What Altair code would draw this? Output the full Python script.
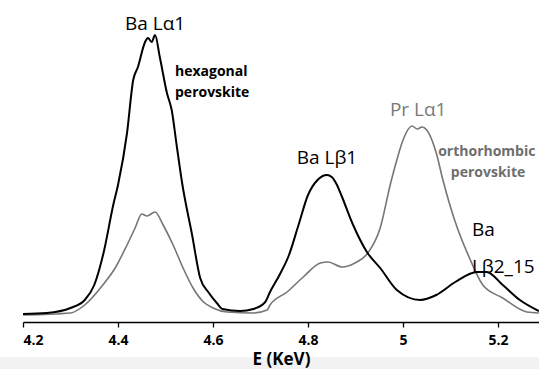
import altair as alt
import pandas as pd

# hexagonal perovskite (black)
hex_E = [4.20, 4.25, 4.30, 4.33, 4.35, 4.37, 4.39, 4.40, 4.419, 4.432, 4.442, 4.457, 4.463, 4.471,
         4.478, 4.488, 4.503, 4.513, 4.524, 4.535, 4.556, 4.573, 4.59, 4.608, 4.62, 4.657, 4.685,
         4.71, 4.72, 4.74, 4.76, 4.78, 4.80, 4.82, 4.84, 4.85, 4.861, 4.87, 4.895, 4.924, 4.952,
         4.987, 5.036, 5.07, 5.11, 5.156, 5.176, 5.21, 5.246, 5.286]
hex_I = [8, 9, 14, 22, 37, 70, 117, 137, 189, 242, 255, 280, 284, 280,
         287, 265, 229, 212, 175, 139, 87, 44, 30, 19, 13, 11, 13,
         20, 30, 47, 67, 97, 127, 142, 147, 145, 137, 127, 97, 70, 54,
         32, 22, 27, 40, 50, 50, 37, 22, 11]

# orthorhombic perovskite (gray)
ort_E = [4.20, 4.30, 4.33, 4.368, 4.394, 4.419, 4.436, 4.45, 4.461, 4.478, 4.495, 4.516, 4.537,
         4.558, 4.58, 4.60, 4.63, 4.685, 4.714, 4.72, 4.756, 4.79, 4.826, 4.842, 4.872, 4.899,
         4.926, 4.952, 4.973, 4.987, 5.0, 5.019, 5.03, 5.04, 5.05, 5.07, 5.084, 5.11, 5.14,
         5.168, 5.21, 5.261, 5.286]
ort_I = [7, 9, 17, 37, 54, 77, 94, 108, 106, 110, 97, 77, 54,
         34, 20, 14, 10, 9, 12, 17, 30, 45, 59, 60, 55, 59,
         69, 94, 137, 162, 182, 196, 193, 195, 192, 169, 142, 100, 64,
         37, 24, 10, 9]

tick_values = [4.2, 4.4, 4.6, 4.8, 5.0, 5.2]

lab_text = ["Ba L\u03b11", "Pr L\u03b11", "Ba L\u03b21", "Ba", "L\u03b22_15"]
lab_E = [4.478, 5.032, 4.84, 5.145, 5.145]
lab_I = [298, 212, 164, 92, 55]
lab_col = ["black", "#7a7a7a", "black", "black", "black"]
lab_align = ["center", "center", "center", "left", "left"]

bold_text = ["hexagonal", "perovskite", "orthorhombic", "perovskite"]
bold_E = [4.52, 4.52, 5.074, 5.179]
bold_I = [250, 229, 170, 149]
bold_col = ["black", "black", "#6e6e6e", "#6e6e6e"]
bold_align = ["left", "left", "left", "center"]

df = pd.concat([
    pd.DataFrame({"E": hex_E, "I": hex_I, "s": "hex"}),
    pd.DataFrame({"E": ort_E, "I": ort_I, "s": "ort"}),
])
labs = pd.DataFrame({"t": lab_text, "E": lab_E, "I": lab_I, "c": lab_col, "a": lab_align})
bolds = pd.DataFrame({"t": bold_text, "E": bold_E, "I": bold_I, "c": bold_col, "a": bold_align})

xs = alt.Scale(domain=[4.2, 5.2863], nice=False, zero=False)
ys = alt.Scale(domain=[0, 322], nice=False, zero=False)

band = alt.Chart(pd.DataFrame({"a": [0]})).mark_rect(color="#f2f2f2").encode(
    x=alt.value(-23), x2=alt.value(516), y=alt.value(357), y2=alt.value(369))

xaxis = alt.Axis(values=tick_values, labelExpr="format(datum.value, '~g')", title="E (KeV)",
                 titleFont="Open Sans", titleFontSize=17, titleFontWeight="bold",
                 titleColor="black", titleBaseline="middle", titleY=37,
                 labelFont="Open Sans", labelFontSize=14, labelFontWeight="bold", labelColor="black",
                 labelPadding=6, tickSize=5, tickColor="black", domainColor="black", domainWidth=1.3,
                 tickWidth=1.3, grid=False, zindex=1)

def line(s, color, w):
    return alt.Chart(df[df.s == s]).mark_line(color=color, strokeWidth=w, interpolate="monotone").encode(
        x=alt.X("E:Q", scale=xs, axis=xaxis),
        y=alt.Y("I:Q", scale=ys, axis=None))

l_ort = line("ort", "#767676", 1.6)
l_hex = line("hex", "black", 2.0)

def text_layer(d, bold):
    layers = []
    for a in ["left", "center"]:
        sub = d[d.a == a]
        if len(sub) == 0:
            continue
        layers.append(alt.Chart(sub).mark_text(
            align=a, baseline="middle", font="Open Sans",
            fontSize=14 if bold else 19, fontWeight="bold" if bold else "normal").encode(
            x=alt.X("E:Q", scale=xs, axis=xaxis), y=alt.Y("I:Q", scale=ys, axis=None), text="t:N",
            color=alt.Color("c:N", scale=None)))
    return layers

chart = alt.layer(band, l_ort, l_hex, *text_layer(labs, False), *text_layer(bolds, True)).properties(
    width=516, height=322,
    autosize=alt.AutoSizeParams(type="none"),
    padding={"left": 23, "top": 0, "right": 0, "bottom": 47},
    background="white",
).configure_view(stroke=None)

chart.save("out.html", embed_options={"renderer": "svg", "actions": False})
